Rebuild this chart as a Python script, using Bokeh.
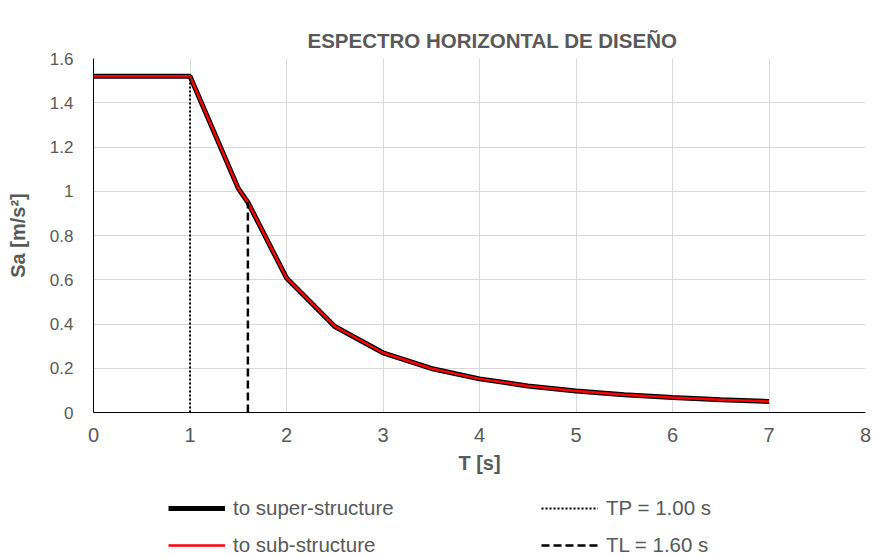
from bokeh.plotting import figure
from bokeh.layouts import column
from bokeh.models import Range1d, FixedTicker, Legend, LegendItem
from bokeh.embed import file_html
from bokeh.resources import INLINE

# ---- data ----
T = [0, 1, 1.5, 1.6, 2, 2.5, 3, 3.5, 4, 4.5, 5, 5.5, 6, 6.5, 7]
Sa_super = [1.52, 1.52, 1.013, 0.95, 0.608, 0.389, 0.270, 0.199, 0.152, 0.120, 0.097, 0.080, 0.068, 0.058, 0.050]
Sa_sub = [1.52, 1.52, 1.013, 0.95, 0.608, 0.389, 0.270, 0.199, 0.152, 0.120, 0.097, 0.080, 0.068, 0.058, 0.050]
TP_x = [1.0, 1.0]
TP_y = [0, 1.52]
TL_x = [1.6, 1.6]
TL_y = [0, 0.95]
x_ticks = [0, 1, 2, 3, 4, 5, 6, 7, 8]
y_ticks = [0, 0.2, 0.4, 0.6, 0.8, 1, 1.2, 1.4, 1.6]
y_tick_labels = ["0", "0.2", "0.4", "0.6", "0.8", "1", "1.2", "1.4", "1.6"]

TITLE = "ESPECTRO HORIZONTAL DE DISEÑO"
GRAY = "#595959"
FONT = "Liberation Sans"

p = figure(width=873, height=477,
           min_border_left=93, min_border_right=8, min_border_top=58, min_border_bottom=65,
           x_range=Range1d(0, 8), y_range=Range1d(0, 1.6),
           output_backend="svg", toolbar_location=None, tools="")
p.outline_line_color = None

p.title.text = TITLE
p.title.align = "left"
p.title.offset = 214
p.title.standoff = 14
p.title.text_font = FONT
p.title.text_font_size = "20.5px"
p.title.text_font_style = "bold"
p.title.text_color = GRAY

p.xaxis.ticker = FixedTicker(ticks=x_ticks)
p.yaxis.ticker = FixedTicker(ticks=y_ticks)
p.yaxis.major_label_overrides = {t: l for t, l in zip(y_ticks, y_tick_labels)}
p.xgrid.ticker = FixedTicker(ticks=x_ticks)
p.ygrid.ticker = FixedTicker(ticks=y_ticks)
p.grid.grid_line_color = "#d9d9d9"
p.grid.grid_line_width = 1

for ax in (p.xaxis[0], p.yaxis[0]):
    ax.axis_line_color = "black"
    ax.axis_line_width = 1
    ax.major_tick_line_color = None
    ax.minor_tick_line_color = None
    ax.major_tick_out = 0
    ax.major_tick_in = 0
    ax.minor_tick_out = 0
    ax.major_label_text_font = FONT
    ax.major_label_text_color = GRAY
    ax.axis_label_text_font = FONT
    ax.axis_label_text_font_style = "bold"
    ax.axis_label_text_color = GRAY
    ax.axis_label_text_font_size = "20px"

p.xaxis.axis_label = "T [s]"
p.yaxis.axis_label = "Sa [m/s²]"
p.xaxis.major_label_text_font_size = "20px"
p.yaxis.major_label_text_font_size = "17px"
p.xaxis.major_label_standoff = 15
p.yaxis.major_label_standoff = 20
p.xaxis.axis_label_standoff = 7
p.yaxis.axis_label_standoff = 18

p.line(T, Sa_super, line_color="black", line_width=5)
p.line(T, Sa_sub, line_color="#ff0000", line_width=2.5)
p.line(TP_x, TP_y, line_color="black", line_width=2, line_dash="2 2")
p.line(TL_x, TL_y, line_color="black", line_width=2.5, line_dash="8 4")

# ---- legend strip (separate figure; proxies lie outside its ranges) ----
q = figure(width=873, height=79, x_range=Range1d(100, 101), y_range=Range1d(100, 101),
           x_axis_type=None, y_axis_type=None,
           min_border_left=0, min_border_right=0, min_border_top=0, min_border_bottom=0,
           output_backend="svg", toolbar_location=None, tools="")
q.outline_line_color = None
q.grid.visible = False
l_super = q.line(T, Sa_super, line_color="black", line_width=5)
l_sub = q.line(T, Sa_sub, line_color="#ff0000", line_width=2.5)
l_tp = q.line(TP_x, TP_y, line_color="black", line_width=2, line_dash="2 2")
l_tl = q.line(TL_x, TL_y, line_color="black", line_width=2.5, line_dash="8 4")

common = dict(orientation="horizontal",
              border_line_color=None, background_fill_alpha=0,
              padding=0, margin=0, spacing=124, glyph_height=24, label_height=24,
              glyph_width=57, label_standoff=8, label_width=184,
              label_text_font=FONT, label_text_font_size="20.5px", label_text_color=GRAY)

legend_a = Legend(items=[LegendItem(label="to super-structure", renderers=[l_super]),
                         LegendItem(label="TP = 1.00 s", renderers=[l_tp])],
                  location=(75, 36), **common)
legend_b = Legend(items=[LegendItem(label="to sub-structure", renderers=[l_sub]),
                         LegendItem(label="TL = 1.60 s", renderers=[l_tl])],
                  location=(75, -1), **common)
q.add_layout(legend_a)
q.add_layout(legend_b)

layout = column(p, q, spacing=0)
open("out.html", "w").write(file_html(layout, INLINE))
